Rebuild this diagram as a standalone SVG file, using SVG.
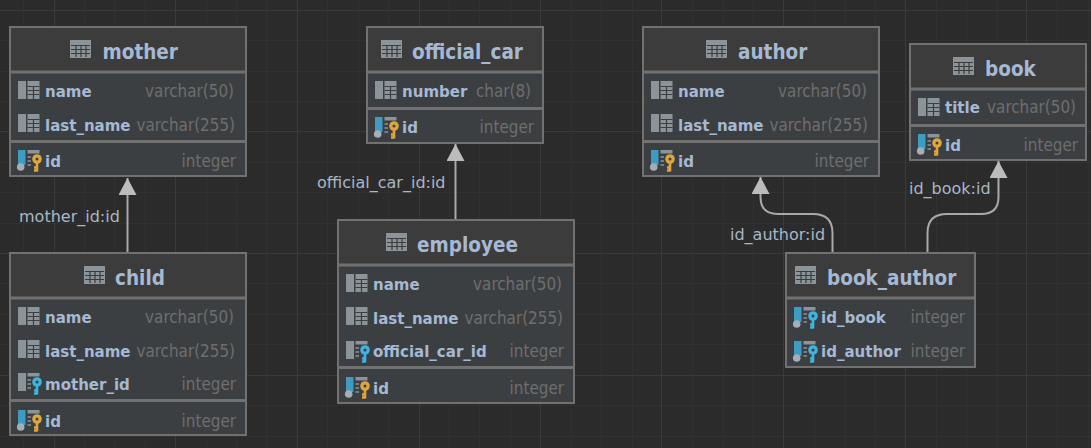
<svg xmlns="http://www.w3.org/2000/svg" width="1091" height="448" viewBox="0 0 1091 448">
<style>
text{font-family:"DejaVu Sans",sans-serif}
.box{fill:#3c3f42;stroke:#717171;stroke-width:2}
.head{fill:#3d3c3c}
.sep{stroke:#717171;stroke-width:3}
.title{font-family:"DejaVu Sans Condensed","DejaVu Sans",sans-serif;font-stretch:condensed;font-size:20.500px;font-weight:700;fill:#a5b9d2}
.col{font-family:"DejaVu Sans Condensed","DejaVu Sans",sans-serif;font-stretch:condensed;font-size:16.700px;font-weight:700;fill:#a5b9d2}
.type{font-family:"DejaVu Sans Condensed","DejaVu Sans",sans-serif;font-stretch:condensed;font-size:16.900px;fill:#6e6e6e;text-anchor:end}
.lbl{font-size:16px;fill:#a9b7c6}
.conn{fill:none;stroke:#a9a9a9;stroke-width:2}
.minor{stroke:#313131;stroke-width:1}
.major{stroke:#3a3a3a;stroke-width:1}
</style>
<defs>
<marker id="arrow" markerUnits="userSpaceOnUse" markerWidth="18" markerHeight="18" refX="17" refY="9" orient="auto"><path d="M0,0L17,9L0,18z" fill="#bcbcbc"/></marker>
<g id="tbl"><rect x="0" y="0" width="21" height="18" fill="#8a9499"/><path d="M1,5.500H20M1,9.500H20M1,13.500H20M6,5V17M11,5V17M16,5V17" stroke="#3d3c3c" stroke-width="1.200" fill="none"/></g>
<g id="col"><rect x="0" y="0" width="8" height="18" fill="#8a9499"/><rect x="9.500" y="0" width="12" height="18" fill="#8a9499"/><path d="M9.500,5.500H21.500M9.500,9.500H21.500M9.500,13.500H21.500M15.500,5V18" stroke="#3c3f42" stroke-width="1.200" fill="none"/></g>
<g id="kblue"><circle cx="19" cy="9" r="4.800" fill="#3fb4e0"/><circle cx="19" cy="9" r="1.500" fill="#3c3f42"/><path d="M19,13V21.500M19,17.500H16M19,20.500H16" stroke="#3fb4e0" stroke-width="2.600" fill="none"/></g>
<g id="kyel"><circle cx="19" cy="9" r="4.800" fill="#e0a63c"/><circle cx="19" cy="9" r="1.500" fill="#3c3f42"/><path d="M19,13V21.500M19,17.500H16M19,20.500H16" stroke="#e0a63c" stroke-width="2.600" fill="none"/></g>
<g id="bars"><rect x="9.500" y="0" width="12" height="3.500" fill="#8a9499"/><path d="M9.500,7H13M9.500,11H13M9.500,15H13" stroke="#8a9499" stroke-width="1.600"/></g>
<g id="fk"><rect x="0" y="0" width="8" height="18" fill="#8a9499"/><use href="#bars"/><use href="#kblue"/></g>
<g id="pk"><rect x="0" y="0" width="7.500" height="15" fill="#3e9cc4"/><circle cx="2.700" cy="17" r="3.800" fill="#a5adb5"/><use href="#bars"/><use href="#kyel"/></g>
<g id="pf"><rect x="0" y="0" width="7.500" height="15" fill="#3e9cc4"/><circle cx="2.700" cy="17" r="3.800" fill="#a5adb5"/><use href="#bars"/><use href="#kblue"/></g>
</defs>
<rect width="1091" height="448" fill="#2b2b2b"/>
<g id="grid">
<path class="minor" d="M23.500,0V448M84.500,0V448M114.500,0V448M145.500,0V448M206.500,0V448M236.500,0V448M266.500,0V448M327.500,0V448M358.500,0V448M388.500,0V448M449.500,0V448M479.500,0V448M510.500,0V448M571.500,0V448M601.500,0V448M632.500,0V448M692.500,0V448M723.500,0V448M753.500,0V448M814.500,0V448M845.500,0V448M875.500,0V448M936.500,0V448M966.500,0V448M997.500,0V448M1057.500,0V448M1088.500,0V448M0,40.500H1091M0,71.500H1091M0,101.500H1091M0,162.500H1091M0,192.500H1091M0,223.500H1091M0,283.500H1091M0,314.500H1091M0,344.500H1091M0,405.500H1091M0,436.500H1091"/>
<path class="major" d="M54.500,0V448M175.500,0V448M297.500,0V448M419.500,0V448M540.500,0V448M661.500,0V448M783.500,0V448M905.500,0V448M1026.500,0V448M0,10.500H1091M0,131.500H1091M0,253.500H1091M0,375.500H1091"/>
</g>
<g id="connectors">
<path class="conn" d="M127.500,252V178" marker-end="url(#arrow)"/>
<path class="conn" d="M455.500,219V144" marker-end="url(#arrow)"/>
<path class="conn" d="M832.500,252V233Q832.500,214 813,214H778Q760.500,214 760.500,197V177" marker-end="url(#arrow)"/>
<path class="conn" d="M927.500,252V233Q927.500,214 947,214H981Q998.500,214 998.500,197V161" marker-end="url(#arrow)"/>
<text class="lbl" x="19" y="222">mother_id:id</text>
<text class="lbl" x="317" y="188">official_car_id:id</text>
<text class="lbl" x="730" y="240">id_author:id</text>
<text class="lbl" x="909" y="194">id_book:id</text>
</g>
<g id="mother">
<rect class="box" x="10" y="27" width="236" height="149"/><rect class="head" x="11" y="28" width="234" height="44"/>
<path class="sep" d="M11,72H245M11,141.500H245"/>
<use href="#tbl" x="70" y="40"/><text class="title" x="102.500" y="58.500">mother</text>
<use href="#col" x="18" y="81"/><text class="col" x="45" y="97">name</text><text class="type" x="234" y="97">varchar(50)</text>
<use href="#col" x="18" y="114"/><text class="col" x="45" y="131">last_name</text><text class="type" x="235" y="131">varchar(255)</text>
<use href="#pk" x="18" y="150"/><text class="col" x="45" y="167">id</text><text class="type" x="236" y="167">integer</text>
</g>
<g id="child">
<rect class="box" x="10" y="253" width="236" height="182"/><rect class="head" x="11" y="254" width="234" height="44"/>
<path class="sep" d="M11,298H245M11,400.500H245"/>
<use href="#tbl" x="84" y="266"/><text class="title" x="115" y="284.500">child</text>
<use href="#col" x="18" y="307"/><text class="col" x="45" y="323">name</text><text class="type" x="234" y="323">varchar(50)</text>
<use href="#col" x="18" y="340"/><text class="col" x="45" y="357">last_name</text><text class="type" x="235" y="357">varchar(255)</text>
<use href="#fk" x="18" y="373"/><text class="col" x="45" y="390">mother_id</text><text class="type" x="236" y="390">integer</text>
<use href="#pk" x="18" y="410"/><text class="col" x="45" y="427">id</text><text class="type" x="236" y="427">integer</text>
</g>
<g id="official_car">
<rect class="box" x="367" y="27" width="176" height="116"/><rect class="head" x="368" y="28" width="174" height="44"/>
<path class="sep" d="M368,72H542M368,108.500H542"/>
<use href="#tbl" x="381" y="40"/><text class="title" x="412" y="58.500">official_car</text>
<use href="#col" x="375" y="81"/><text class="col" x="402" y="97">number</text><text class="type" x="531" y="97">char(8)</text>
<use href="#pk" x="375" y="117"/><text class="col" x="402" y="133">id</text><text class="type" x="534" y="133">integer</text>
</g>
<g id="employee">
<rect class="box" x="338" y="220" width="236" height="183"/><rect class="head" x="339" y="221" width="234" height="44"/>
<path class="sep" d="M339,265H573M339,367.500H573"/>
<use href="#tbl" x="386" y="233"/><text class="title" x="417" y="251.500">employee</text>
<use href="#col" x="346" y="274"/><text class="col" x="373" y="290">name</text><text class="type" x="562" y="290">varchar(50)</text>
<use href="#col" x="346" y="307"/><text class="col" x="373" y="324">last_name</text><text class="type" x="563" y="324">varchar(255)</text>
<use href="#fk" x="346" y="341"/><text class="col" x="373" y="357">official_car_id</text><text class="type" x="564" y="357">integer</text>
<use href="#pk" x="346" y="377"/><text class="col" x="373" y="394">id</text><text class="type" x="564" y="394">integer</text>
</g>
<g id="author">
<rect class="box" x="643" y="27" width="236" height="149"/><rect class="head" x="644" y="28" width="234" height="44"/>
<path class="sep" d="M644,72H878M644,141.500H878"/>
<use href="#tbl" x="706" y="40"/><text class="title" x="738" y="58.500">author</text>
<use href="#col" x="651" y="81"/><text class="col" x="678" y="97">name</text><text class="type" x="867" y="97">varchar(50)</text>
<use href="#col" x="651" y="114"/><text class="col" x="678" y="131">last_name</text><text class="type" x="868" y="131">varchar(255)</text>
<use href="#pk" x="651" y="150"/><text class="col" x="678" y="167">id</text><text class="type" x="869" y="167">integer</text>
</g>
<g id="book">
<rect class="box" x="910" y="44" width="176" height="116"/><rect class="head" x="911" y="45" width="174" height="44"/>
<path class="sep" d="M911,89H1085M911,125.500H1085"/>
<use href="#tbl" x="953" y="57"/><text class="title" x="985" y="75.500">book</text>
<use href="#col" x="918" y="98"/><text class="col" x="945" y="113">title</text><text class="type" x="1076" y="113">varchar(50)</text>
<use href="#pk" x="918" y="134"/><text class="col" x="945" y="151">id</text><text class="type" x="1078" y="151">integer</text>
</g>
<g id="book_author">
<rect class="box" x="786" y="253" width="189" height="114"/><rect class="head" x="787" y="254" width="187" height="44"/>
<path class="sep" d="M787,298H974"/>
<use href="#tbl" x="795" y="266"/><text class="title" x="827" y="284.500">book_author</text>
<use href="#pf" x="794" y="307"/><text class="col" x="821" y="323">id_book</text><text class="type" x="965" y="323">integer</text>
<use href="#pf" x="794" y="341"/><text class="col" x="821" y="357">id_author</text><text class="type" x="965" y="357">integer</text>
</g>
</svg>
